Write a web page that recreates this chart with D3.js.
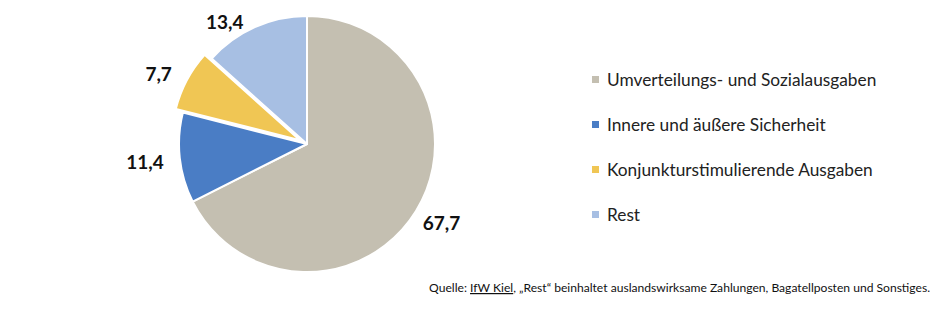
<!DOCTYPE html>
<html>
<head>
<meta charset="utf-8">
<script src="https://cdn.jsdelivr.net/npm/d3@7"></script>
<style>
  body { margin: 0; background: #fff; }
  text { font-family: Lato, "Open Sans", sans-serif; }
</style>
</head>
<body>
<script>
const WIDTH = 940;
const HEIGHT = 312;
const CX = 307;
const CY = 144;
const RADIUS = 128;
const EXPLODE = 8;

const categories = ["Umverteilungs- und Sozialausgaben", "Innere und äußere Sicherheit", "Konjunkturstimulierende Ausgaben", "Rest"];
const values = [67.7, 11.4, 7.7, 13.4];
const labels = ["67,7", "11,4", "7,7", "13,4"];
const colors = ["#c4bfb1", "#4a7dc5", "#f0c654", "#a7bfe3"];
const exploded = [false, false, true, false];

const DATA = categories.map((c, i) => ({ name: c, value: values[i], label: labels[i], color: colors[i], out: exploded[i] }));

const svg = d3.select("body").append("svg")
  .attr("width", WIDTH).attr("height", HEIGHT);

const pie = d3.pie().value(d => d.value).sort(null);
const arc = d3.arc().innerRadius(0).outerRadius(RADIUS);
const arcs = pie(DATA);

const mid = d => (d.startAngle + d.endAngle) / 2;

const offset = d => {
  const a = mid(d);
  const k = d.data.out ? EXPLODE : 0;
  return [Math.sin(a) * k, -Math.cos(a) * k];
};

const g = svg.append("g").attr("transform", "translate(" + CX + "," + CY + ")");

g.selectAll("path")
  .data(arcs)
  .enter().append("path")
  .attr("d", arc)
  .attr("transform", d => "translate(" + offset(d) + ")")
  .attr("fill", d => d.data.color)
  .attr("stroke", "#fff")
  .attr("stroke-width", 2)
  .attr("stroke-linejoin", "round");

// data labels, just outside the slice edge
const LABEL_R = RADIUS + 8;
const isLeft = d => mid(d) > Math.PI;
g.selectAll("text.lbl")
  .data(arcs)
  .enter().append("text")
  .attr("class", "lbl")
  .attr("x", d => {
    const r = LABEL_R + (d.data.out ? EXPLODE : 0);
    return Math.sin(mid(d)) * r + (isLeft(d) ? -8 : 0);
  })
  .attr("y", d => {
    const c = Math.cos(mid(d));
    const r = LABEL_R + (d.data.out ? EXPLODE : 0);
    return -c * r + 9 - 10 * c + (c > 0.8 ? 9 : 0);
  })
  .attr("text-anchor", d => isLeft(d) ? "end" : "start")
  .style("font-size", "19px")
  .style("font-weight", "bold")
  .style("fill", "#111")
  .text(d => d.data.label);

// legend
const legend = svg.append("g").attr("transform", "translate(592, 80)");
const row = legend.selectAll("g")
  .data(DATA)
  .enter().append("g")
  .attr("transform", (d, i) => "translate(0," + (i * 45) + ")");

row.append("rect")
  .attr("x", 0).attr("y", -4)
  .attr("width", 7).attr("height", 7)
  .attr("fill", d => d.color);

row.append("text")
  .attr("x", 15).attr("y", 6)
  .style("font-size", "17.3px")
  .style("fill", "#222")
  .text(d => d.name);

// source line
const src = svg.append("text")
  .attr("x", 930).attr("y", 292)
  .attr("text-anchor", "end")
  .style("font-size", "12.1px")
  .style("fill", "#111");
src.append("tspan").text("Quelle: ");
src.append("tspan").attr("text-decoration", "underline").text("IfW Kiel");
src.append("tspan").text(", „Rest“ beinhaltet auslandswirksame Zahlungen, Bagatellposten und Sonstiges.");
</script>
</body>
</html>
